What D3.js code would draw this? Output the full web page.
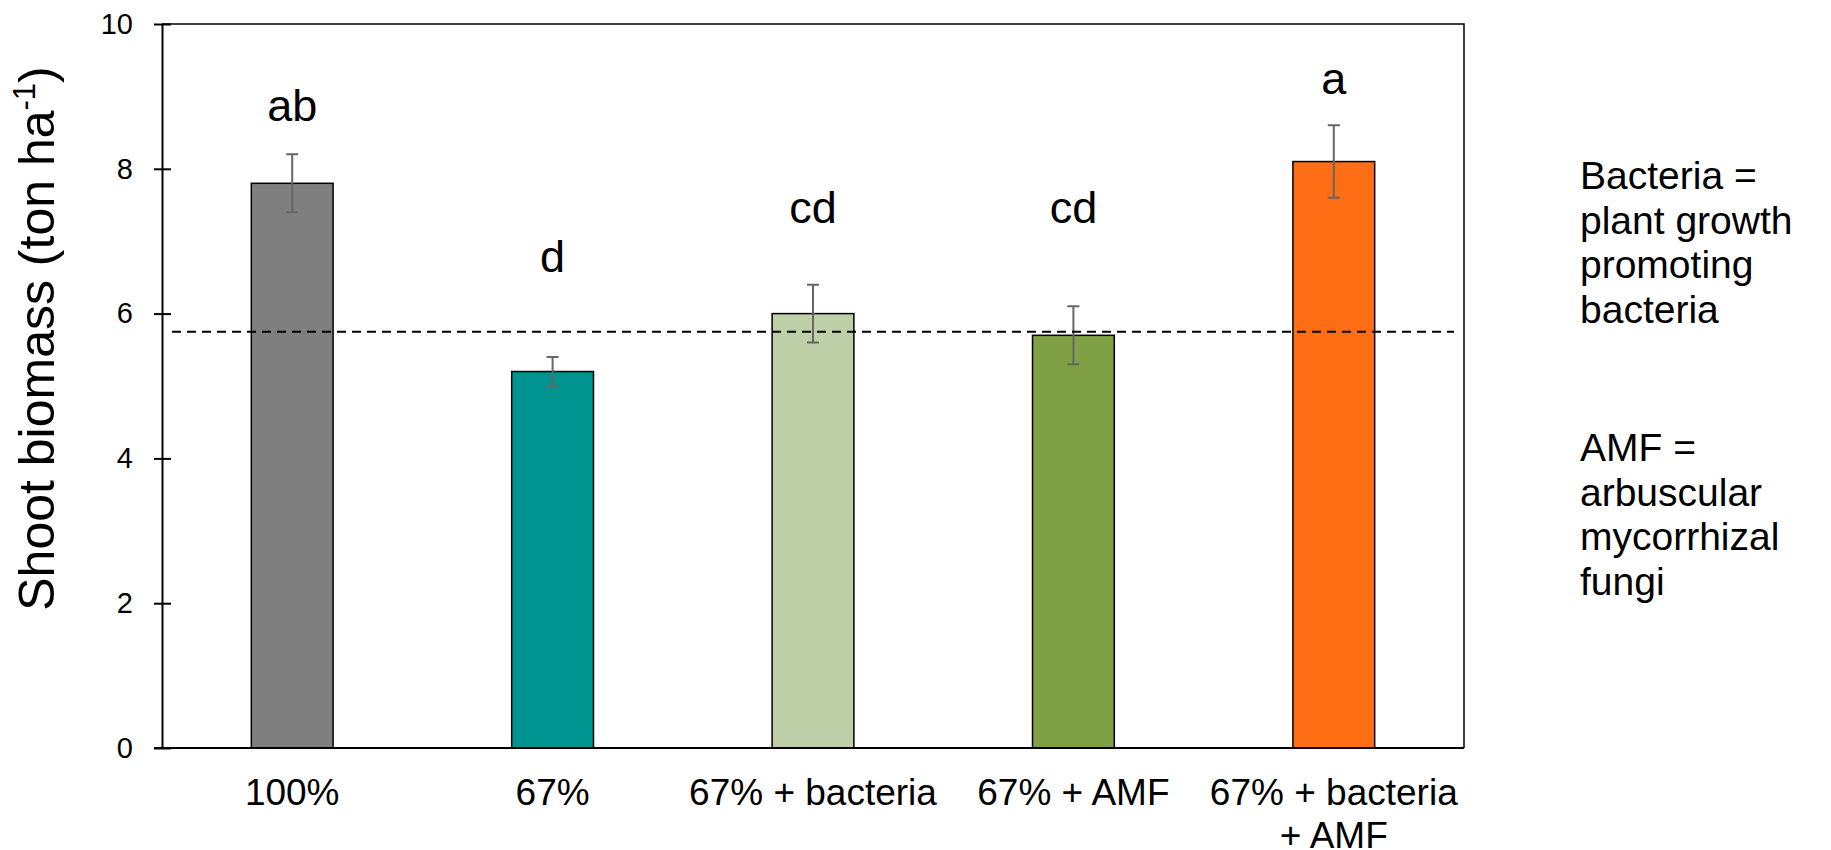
<!DOCTYPE html>
<html>
<head>
<meta charset="utf-8">
<script src="https://cdn.jsdelivr.net/npm/d3@7"></script>
<style>
  html, body { margin: 0; padding: 0; background: #fff; }
  svg { display: block; font-family: "Liberation Sans", Arial, sans-serif; }
</style>
</head>
<body>
<div id="chart"></div>
<script>
const categories = ["100%", "67%", "67% + bacteria", "67% + AMF", "67% + bacteria + AMF"];
const tickLines = [["100%"], ["67%"], ["67% + bacteria"], ["67% + AMF"], ["67% + bacteria", "+ AMF"]];
const biomass = [7.8, 5.2, 6.0, 5.7, 8.1];
const errors = [0.4, 0.2, 0.4, 0.4, 0.5];
const letters = ["ab", "d", "cd", "cd", "a"];
const letterHeights = [8.66, 6.58, 7.25, 7.25, 9.03];
const barColors = ["#7f7f7f", "#009490", "#bfcfa8", "#80a045", "#ff6d14"];
const referenceLine = 5.75;
const yTicks = [0, 2, 4, 6, 8, 10];
const noteBacteria = ["Bacteria =", "plant growth", "promoting", "bacteria"];
const noteAMF = ["AMF =", "arbuscular", "mycorrhizal", "fungi"];

const width = 1831;
const height = 850;
const margin = { top: 24, right: 367, bottom: 102, left: 162 };

const svg = d3.select("#chart")
  .append("svg")
  .attr("width", width)
  .attr("height", height)
  .attr("viewBox", [0, 0, width, height]);

const x = d3.scaleBand()
  .domain(categories)
  .range([margin.left, width - margin.right])
  .paddingInner(0.686)
  .paddingOuter(0.343);

const y = d3.scaleLinear()
  .domain([0, 10])
  .range([height - margin.bottom, margin.top]);

const data = categories.map((c, i) => ({
  name: c,
  value: biomass[i],
  err: errors[i],
  letter: letters[i],
  letterY: letterHeights[i],
  color: barColors[i],
}));

// plot frame (top + right)
svg.append("path")
  .attr("d", `M${margin.left},${margin.top}H${width - margin.right}V${height - margin.bottom}`)
  .attr("fill", "none")
  .attr("stroke", "#000")
  .attr("stroke-width", 1.5);

// bars
svg.append("g")
  .selectAll("rect")
  .data(data)
  .join("rect")
  .attr("x", (d) => x(d.name))
  .attr("y", (d) => y(d.value))
  .attr("width", x.bandwidth())
  .attr("height", (d) => y(0) - y(d.value))
  .attr("fill", (d) => d.color)
  .attr("stroke", "#000")
  .attr("stroke-width", 1.5);

// error bars
const capHalf = 6;
const gErr = svg.append("g")
  .attr("stroke", "#666")
  .attr("stroke-width", 2)
  .attr("fill", "none");

gErr.selectAll("path")
  .data(data)
  .join("path")
  .attr("d", (d) => {
    const cx = x(d.name) + x.bandwidth() / 2;
    const hi = y(d.value + d.err);
    const lo = y(d.value - d.err);
    return `M${cx - capHalf},${hi}H${cx + capHalf}M${cx},${hi}V${lo}M${cx - capHalf},${lo}H${cx + capHalf}`;
  });

// dashed reference line
svg.append("line")
  .attr("x1", margin.left + 10)
  .attr("x2", width - margin.right - 10)
  .attr("y1", y(referenceLine))
  .attr("y2", y(referenceLine))
  .attr("stroke", "#000")
  .attr("stroke-width", 2)
  .attr("stroke-dasharray", "9,6");

// significance letters
svg.append("g")
  .selectAll("text")
  .data(data)
  .join("text")
  .attr("x", (d) => x(d.name) + x.bandwidth() / 2)
  .attr("y", (d) => y(d.letterY))
  .attr("text-anchor", "middle")
  .attr("font-size", 45)
  .attr("fill", "#000")
  .text((d) => d.letter);

// y axis
svg.append("g")
  .attr("transform", `translate(${margin.left},0)`)
  .call(d3.axisLeft(y).tickValues(yTicks).tickSizeInner(-9).tickSizeOuter(0).tickPadding(0).tickFormat(d3.format("d")))
  .call((g) => g.select(".domain").attr("stroke-width", 2))
  .call((g) => g.selectAll(".tick line")
    .attr("x1", -8).attr("x2", 9)
    .attr("stroke-width", 2))
  .call((g) => g.selectAll(".tick text")
    .attr("x", -29)
    .attr("font-size", 29)
    .attr("font-family", "Liberation Sans, Arial, sans-serif")
    .attr("fill", "#000"));

// x axis
svg.append("g")
  .attr("transform", `translate(0,${y(0)})`)
  .call(d3.axisBottom(x).tickSize(0).tickFormat(() => ""))
  .call((g) => g.select(".domain")
    .attr("d", `M${margin.left - 8},0H${width - margin.right}`)
    .attr("stroke-width", 2))
  .call((g) => g.selectAll(".tick text").remove());

svg.append("g")
  .selectAll("text")
  .data(categories)
  .join("text")
  .attr("x", (d) => x(d) + x.bandwidth() / 2)
  .attr("y", y(0) + 57)
  .attr("text-anchor", "middle")
  .attr("font-size", 37)
  .attr("fill", "#000")
  .each(function (d, i) {
    d3.select(this)
      .selectAll("tspan")
      .data(tickLines[i])
      .join("tspan")
      .attr("x", x(d) + x.bandwidth() / 2)
      .attr("dy", (t, j) => (j === 0 ? 0 : 43))
      .text((t) => t);
  });

// y axis title
const title = svg.append("text")
  .attr("transform", `translate(54,${(62 + 615) / 2}) rotate(-90)`)
  .attr("text-anchor", "middle")
  .attr("font-size", 50)
  .attr("fill", "#000");
title.append("tspan").text("Shoot biomass (ton ha");
title.append("tspan").attr("font-size", 31).attr("dy", -19).text("-1");
title.append("tspan").attr("dy", 19).text(")");

// side notes
function note(lines, top) {
  svg.append("text")
    .attr("font-size", 39)
    .attr("fill", "#000")
    .selectAll("tspan")
    .data(lines)
    .join("tspan")
    .attr("x", 1580)
    .attr("y", (d, i) => top + i * 44.7)
    .text((d) => d);
}
note(noteBacteria, 189);
note(noteAMF, 461);
</script>
</body>
</html>
